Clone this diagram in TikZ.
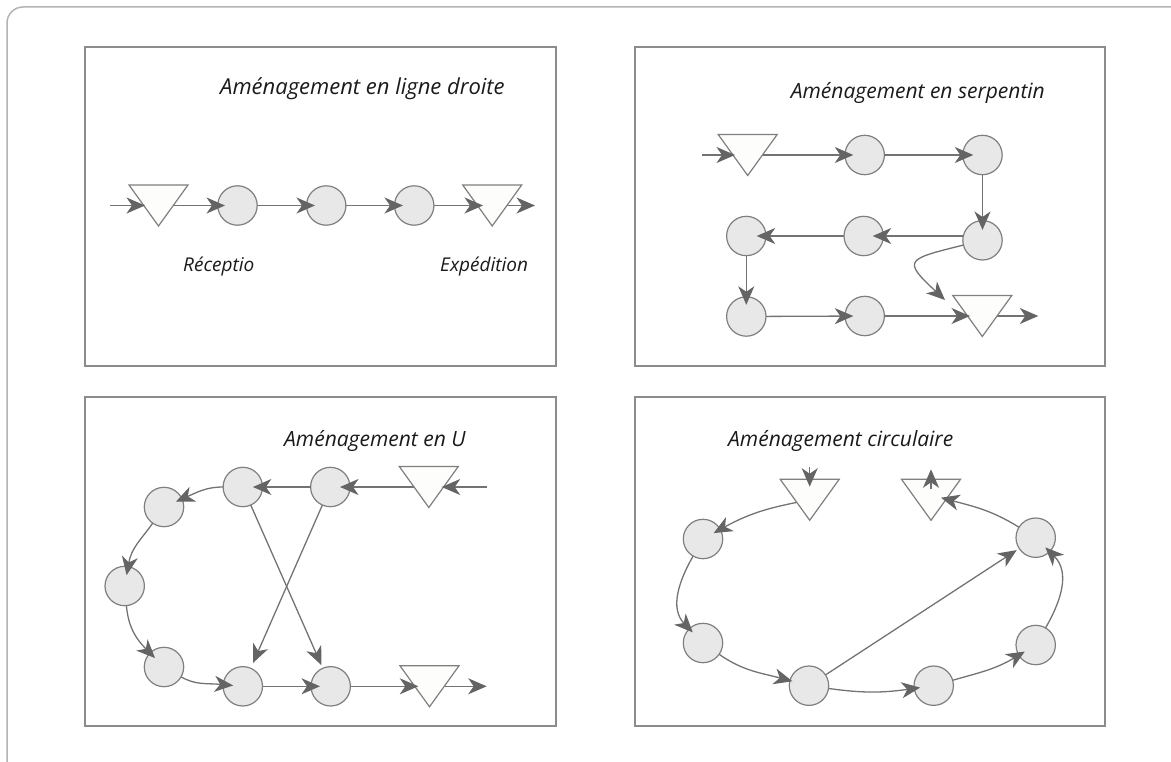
\documentclass[tikz,border=0pt]{standalone}
\usepackage{fontspec}
\setmainfont{Open Sans}
\usetikzlibrary{arrows.meta}

\definecolor{framec}{HTML}{B4B4B4}
\definecolor{boxc}{HTML}{8C8C8C}
\definecolor{shapec}{HTML}{7F7F7F}
\definecolor{circfill}{HTML}{E8E8E8}
\definecolor{trifill}{HTML}{FDFDFB}
\definecolor{linec}{HTML}{737373}
\definecolor{headc}{HTML}{646464}
\definecolor{textc}{HTML}{1A1A1A}

\tikzset{
  panel/.style={draw=boxc, line width=1.2pt},
  station/.style={circle, draw=shapec, fill=circfill, line width=1.2pt,
    minimum size=39.4pt, inner sep=0pt, outer sep=0pt},
  tri/.style={draw=shapec, fill=trifill, line width=1.2pt, line join=miter},
  link/.style={draw=linec, line width=1.3pt,
    -{Stealth[length=18.5pt, width=16pt, inset=5.5pt, color=headc]},
    shorten >=-8pt},
  title/.style={font=\fontsize{21}{25}\selectfont\itshape, text=textc,
    inner sep=0pt, anchor=base west},
  tag/.style={font=\fontsize{19}{23}\selectfont\itshape, text=textc,
    inner sep=0pt, anchor=base west},
}

% x and y are given in pixels, y measured downwards from the top edge
\newcommand\mkstation[3]{\node[station] (#1) at (#2,-#3) {};}
\newcommand\mktri[3]{\coordinate (#1) at (#2,-#3);}
\newcommand\drawtri[1]{\draw[tri] ([shift={(-29.5,20.5)}]#1) --
  ([shift={(29.5,20.5)}]#1) -- ([shift={(0,-20.5)}]#1) -- cycle;}

\begin{document}
\begin{tikzpicture}[x=1pt,y=1pt]
\useasboundingbox (0,0) rectangle (1171,-762);
\clip (0,0) rectangle (1171,-762);

% outer frame
\draw[draw=framec, line width=1.5pt, rounded corners=16pt] (7,-7) rectangle (1190,-782);

% the four panels
\draw[panel] (85,-47) rectangle (556,-366);
\draw[panel] (635,-47) rectangle (1105,-366);
\draw[panel] (85,-397) rectangle (556,-726);
\draw[panel] (635,-397) rectangle (1105,-726);

% ---------------- straight line ----------------
\node[title, font=\fontsize{22}{26}\selectfont\itshape] (h1) at (220,-95) {Aménagement en ligne droite};
\mktri{ta}{158.5}{205.5}
\mktri{tb}{492.2}{205.5}
\mkstation{c1}{237.5}{205.5}
\mkstation{c2}{326.2}{205.5}
\mkstation{c3}{414.2}{205.5}
\coordinate (ina) at (110,-205.5);
\coordinate (outa) at (535,-205.5);
\draw[link, shorten >=-7.2pt] (ta) -- (c1);
\draw[link, shorten >=0pt] (tb) -- (outa);
\drawtri{ta}
\drawtri{tb}
\draw[link, shorten >=13.5pt] (ina) -- (ta);
\draw[link, shorten >=-8.5pt] (c1) -- (c2);
\draw[link, shorten >=-8.5pt] (c2) -- (c3);
\draw[link, shorten >=9.2pt] (c3) -- (tb);
\node[tag] (lrec) at (183,-272) {Réceptio};
\node[tag] (lexp) at (440,-272) {Expédition};

% ---------------- serpentine ----------------
\node[title] (h2) at (790.7,-98.3) {Aménagement en serpentin};
\mktri{tin}{747.7}{155}
\mktri{tout}{982.3}{316}
\mkstation{s1}{864.7}{155}
\mkstation{s2}{982.5}{155}
\mkstation{s3}{982.5}{240.3}
\mkstation{s4}{863.7}{236}
\mkstation{s5}{746.3}{236}
\mkstation{s6}{746.3}{316.5}
\mkstation{s7}{864.7}{316}
\coordinate (ins) at (701.7,-155);
\coordinate (outs) at (1038.3,-316);
\draw[link, shorten >=-8.3pt] (tin) -- (s1);
\draw[link, shorten >=0pt] (tout) -- (outs);
\drawtri{tin}
\drawtri{tout}
\draw[link, shorten >=12.7pt] (ins) -- (tin);
\draw[link, shorten >=-10.5pt] (s1) -- (s2);
\draw[link, shorten >=-9.4pt] (s2) -- (s3);
\draw[link, shorten >=-10.7pt] (s3.west |- s4) -- (s4);
\draw[link, shorten >=-9.3pt] (s4) -- (s5);
\draw[link, shorten >=-8pt] (s5) -- (s6);
\draw[link, shorten >=-8.3pt] (s6) -- (s7);
\draw[link, shorten >=12.3pt] (s7) -- (tout);
\draw[link, shorten >=0pt] (s3) to[out=194, in=137, looseness=2.6] ([shift={(-37.3,16)}]tout);

% ---------------- U shape ----------------
\node[title] (h3) at (284,-446) {Aménagement en U};
\mktri{tuin}{428.8}{487}
\mktri{tuout}{429.5}{686.3}
\mkstation{u1}{242.8}{487}
\mkstation{u2}{330.3}{487}
\mkstation{u3}{164}{507}
\mkstation{u4}{124.7}{586}
\mkstation{u5}{164}{667}
\mkstation{u6}{242.8}{686.3}
\mkstation{u7}{330.7}{686.3}
\coordinate (inu) at (486.7,-487);
\coordinate (outu) at (486.7,-686.3);
\draw[link, shorten >=-10pt] (tuin) -- (u2);
\draw[link, shorten >=0pt] (tuout) -- (outu);
\drawtri{tuin}
\drawtri{tuout}
\draw[link, shorten >=12.9pt] (inu) -- (tuin);
\draw[link, shorten >=-9.6pt] (u2) -- (u1);
\draw[link, shorten >=-6.7pt] (u1) to[out=180, in=24] (u3);
\draw[link, shorten >=-8.7pt] (u3) to[out=235, in=80] (u4);
\draw[link, shorten >=-7pt] (u4) to[out=-85, in=135] (u5);
\draw[link, shorten >=-10pt] (u5) to[out=-30, in=175] (u6);
\draw[link, shorten >=-9pt] (u6) -- (u7);
\draw[link, shorten >=11.2pt] (u7) -- (tuout);
\draw[link, shorten >=3.5pt] (u1) -- (u7);
\draw[link, shorten >=5.8pt] (u2) -- (u6);

% ---------------- circular ----------------
\node[title] (h4) at (728,-446) {Aménagement circulaire};
\mktri{tA}{809.7}{499.8}
\mktri{tB}{931}{499.8}
\mkstation{k1}{703}{539}
\mkstation{k2}{703}{643}
\mkstation{k3}{809}{685.7}
\mkstation{k4}{933.7}{685.7}
\mkstation{k5}{1035.7}{645}
\mkstation{k6}{1035.7}{537.7}
\coordinate (inA) at (809.7,-467);
\coordinate (outB) at (931,-469.3);
\draw[link, shorten >=-7.5pt] (tA) to[out=191, in=29] (k1);
\drawtri{tA}
\drawtri{tB}
\draw[link, shorten >=13.1pt] (inA) -- (tA);
\draw[link, shorten <=11pt, shorten >=0pt] (tB) -- (outB);
\draw[link, shorten >=-5pt] (k1) to[out=240, in=134] (k2);
\draw[link, shorten >=-2.5pt] (k2) to[out=-35, in=165] (k3);
\draw[link, shorten >=-6pt] (k3) to[out=-8, in=188] (k4);
\draw[link, shorten >=-7pt] (k4) to[out=16, in=211] (k5);
\draw[link, shorten >=-6pt] (k5) to[out=60, in=-45] (k6);
\draw[link, shorten >=0pt] (k6) to[out=148, in=-15] ([shift={(10,2.1)}]tB);
\draw[link, shorten >=3pt] (k3) -- (k6);
\end{tikzpicture}
\end{document}
